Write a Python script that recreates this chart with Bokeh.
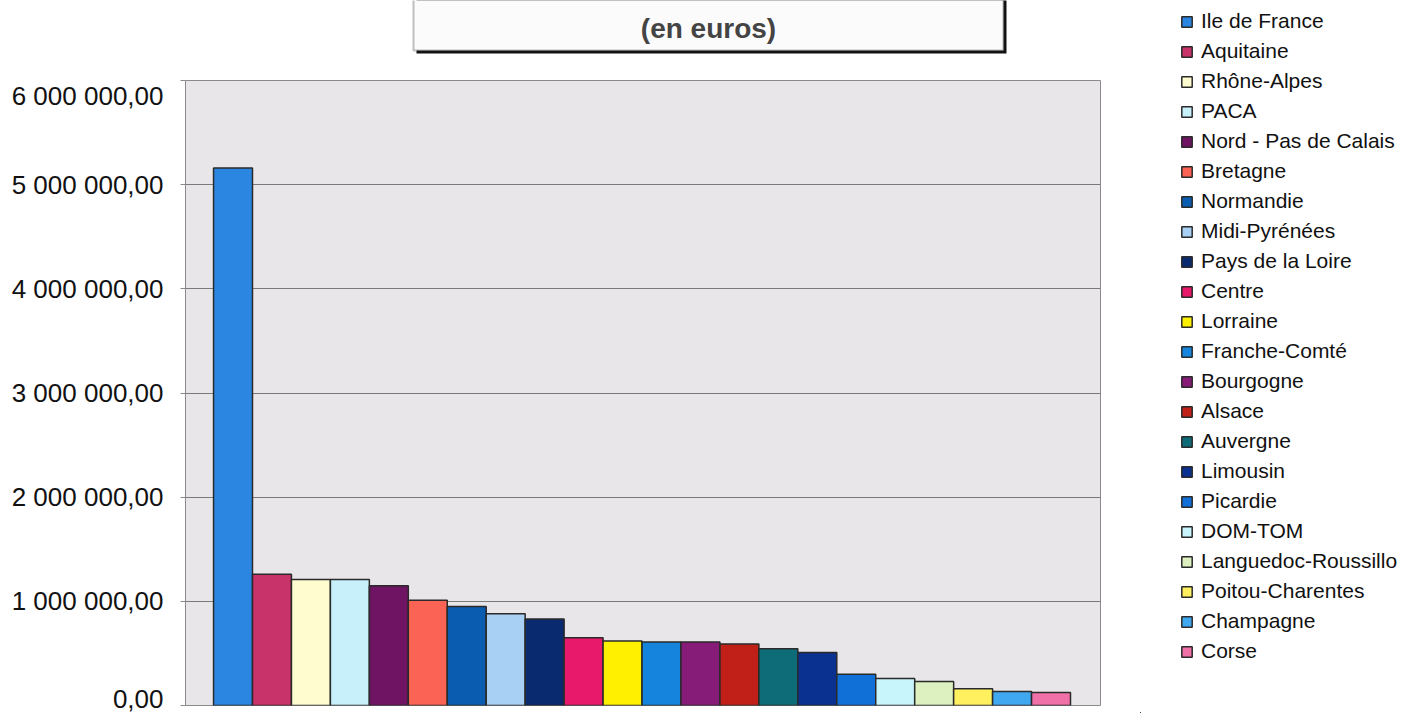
from bokeh.plotting import figure
from bokeh.layouts import row, column
from bokeh.models import (ColumnDataSource, Range1d, FixedTicker, Legend, LegendItem,
                          Label, BoxAnnotation)
from bokeh.embed import file_html
from bokeh.resources import INLINE

# Regional amounts (euros), in ranking order
regions = ["Ile de France", "Aquitaine", "Rhône-Alpes", "PACA", "Nord - Pas de Calais",
           "Bretagne", "Normandie", "Midi-Pyrénées", "Pays de la Loire", "Centre",
           "Lorraine", "Franche-Comté", "Bourgogne", "Alsace", "Auvergne", "Limousin",
           "Picardie", "DOM-TOM", "Languedoc-Roussillo", "Poitou-Charentes",
           "Champagne", "Corse"]
amounts = [5160000, 1260000, 1210000, 1210000, 1150000,
           1010000, 950000, 880000, 830000, 650000,
           620000, 610000, 610000, 590000, 545000, 510000,
           300000, 260000, 230000, 160000,
           135000, 125000]
colors = ["#2a86e0", "#c8336a", "#fffcd0", "#c8f0fb", "#6e1463",
          "#fb6354", "#0a5cb0", "#a8d0f4", "#0a2a70", "#e8186a",
          "#fff000", "#1584dc", "#861c78", "#c02018", "#0e6c78", "#0a3090",
          "#1070d8", "#c8f4fc", "#dcf0c0", "#fff060",
          "#40a8f0", "#f070a8"]
y_ticks = [0, 1000000, 2000000, 3000000, 4000000, 5000000, 6000000]
subtitle = "(en euros)"

FONT = "Liberation Sans"


def fr_number(v):
    return f"{v:,.2f}".replace(",", " ").replace(".", ",")


src = ColumnDataSource(dict(x=list(range(len(regions))), top=amounts,
                            color=colors, name=regions))
bar_style = dict(fill_color="color", line_color="#2a2a2a", line_width=1.5)


def blank_panel(w, h, xr=(0, 1), yr=(0, 1)):
    f = figure(width=w, height=h, output_backend="svg", toolbar_location=None,
               x_range=Range1d(*xr), y_range=Range1d(*yr),
               x_axis_location=None, y_axis_location=None,
               min_border=0)
    f.grid.visible = False
    f.outline_line_color = None
    f.background_fill_color = "white"
    f.border_fill_color = "white"
    return f


# --- title strip (its frame lines up with the chart's plot area) -------
head = blank_panel(1140, 80)
head.add_layout(BoxAnnotation(left=231, right=821, bottom=27, top=120,
                              left_units="screen", right_units="screen",
                              bottom_units="screen", top_units="screen",
                              fill_color="#111111", fill_alpha=1, line_color=None))
head.add_layout(BoxAnnotation(left=228, right=818, bottom=30, top=120,
                              left_units="screen", right_units="screen",
                              bottom_units="screen", top_units="screen",
                              fill_color="#fbfbfb", fill_alpha=1,
                              line_color="#333333", line_width=2))
head.add_layout(Label(x=523, y=52, x_units="screen", y_units="screen", text=subtitle,
                      text_font=FONT, text_font_style="bold", text_font_size="28px",
                      text_color="#444444", text_align="center", text_baseline="middle"))

# --- bar chart ---------------------------------------------------------
p = figure(width=1140, height=633, output_backend="svg", toolbar_location=None,
           x_range=Range1d(-1.22, len(regions) - 0.5 + 0.77),
           y_range=Range1d(0, 6000000),
           min_border_left=185, min_border_right=40,
           min_border_top=0, min_border_bottom=8)

p.background_fill_color = "#e8e6e9"
p.border_fill_color = "white"
p.outline_line_color = "#8a8a8a"
p.outline_line_width = 1

p.xaxis.visible = False
p.xgrid.visible = False
p.ygrid.grid_line_color = "#7a7a7a"
p.ygrid.grid_line_width = 1

ax = p.yaxis[0]
ax.ticker = FixedTicker(ticks=y_ticks)
ax.major_label_overrides = {t: fr_number(t) for t in y_ticks}
ax.major_label_text_font = FONT
ax.major_label_text_font_size = "26px"
ax.major_label_text_color = "#111111"
ax.axis_line_color = None
ax.major_tick_line_color = "#8a8a8a"
ax.major_tick_in = 0
ax.major_tick_out = 5
ax.minor_tick_line_color = None
ax.major_label_standoff = 17

p.vbar(x="x", top="top", width=1.0, bottom=0, source=src, **bar_style)

# --- legend column (its bars sit outside the view; only the keys show) --
side = blank_panel(263, 713, xr=(30, 31), yr=(1e8, 2e8))
keys = side.vbar(x="x", top="top", width=1.0, bottom=0, source=src, **bar_style)
items = [LegendItem(label=name, renderers=[keys], index=i) for i, name in enumerate(regions)]
legend = Legend(items=items, location=(40, 50),
                glyph_width=13, glyph_height=13, label_standoff=8,
                label_height=24, spacing=6, padding=0, margin=0,
                label_text_font=FONT, label_text_font_size="21px",
                label_text_color="#111111",
                border_line_color=None, background_fill_alpha=0)
side.add_layout(legend, "center")

layout = row(column(head, p, spacing=0), side, spacing=0)
open("out.html", "w").write(file_html(layout, INLINE))
